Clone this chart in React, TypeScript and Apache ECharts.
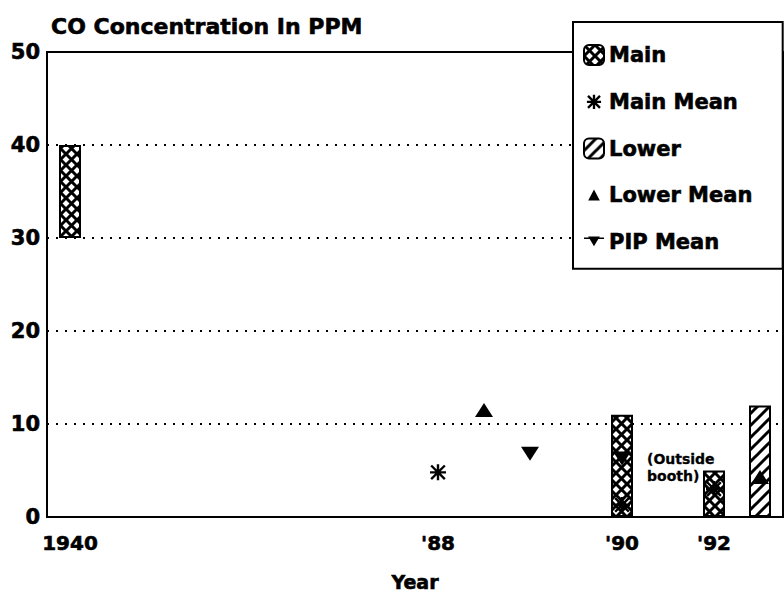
import React, { useEffect, useRef } from 'react';
import * as echarts from 'echarts';

const categories = ['1940', '', '', '', '', '', '', '', "'88", '', '', '', "'90", '', "'92", ''];
const yTicks = [0, 10, 20, 30, 40, 50];

// floating range bars: category index, low, high
const mainIdx = [0, 12, 14];
const mainLow = [30, 0, 0];
const mainHigh = [40, 11, 5];
const lowerIdx = [15];
const lowerLow = [0];
const lowerHigh = [12];

// means: [category index, value]
const mainMean = [[8, 4.8], [12, 1.3], [14, 3.0]];
const lowerMean = [[9, 11.5], [15, 4.3]];
const pipMean = [[10, 6.8], [12, 6.3]];
const pipNoteIdx = 12;
const pipNote = '(Outside\nbooth)';

const FONT = '"DejaVu Sans", sans-serif';
const HEAVY = { fontFamily: FONT, fontWeight: 'bold', color: '#000', textBorderColor: '#000', textBorderWidth: 0.6 };

const STAR = 'path://M8.5 0 H11.5 V20 H8.5 Z M0 8.5 H20 V11.5 H0 Z M0.4 2.5 L2.5 0.4 L19.6 17.5 L17.5 19.6 Z M17.5 0.4 L19.6 2.5 L2.5 19.6 L0.4 17.5 Z';
const STAR_ICON = 'path://M0 0 L0.01 0 L0 0.01 Z M24 24 L24.01 24 L24 24.01 Z M10.6 3.5 H13.4 V20.5 H10.6 Z M3.5 10.6 H20.5 V13.4 H3.5 Z M3.8 5.8 L5.8 3.8 L20.2 18.2 L18.2 20.2 Z M18.2 3.8 L20.2 5.8 L5.8 20.2 L3.8 18.2 Z';
const TRI_ICON = 'path://M0 0 L0.01 0 L0 0.01 Z M24 24 L24.01 24 L24 24.01 Z M12 5 L19 18 H5 Z';
const PIP_ICON = 'path://M0 0 L0.01 0 L0 0.01 Z M24 24 L24.01 24 L24 24.01 Z M0 6.5 H24 V8.5 H0 Z M5 5.5 H19 L12 17 Z';

function makeCross() {
  const s = 11;
  const c = document.createElement('canvas');
  c.width = s; c.height = s;
  const g = c.getContext('2d')!;
  g.fillStyle = '#fff'; g.fillRect(0, 0, s, s);
  g.strokeStyle = '#000'; g.lineWidth = 3;
  g.beginPath();
  g.moveTo(-1, -1); g.lineTo(s + 1, s + 1);
  g.moveTo(s + 1, -1); g.lineTo(-1, s + 1);
  g.stroke();
  return c;
}
function makeHatch() {
  const s = 12;
  const c = document.createElement('canvas');
  c.width = s; c.height = s;
  const g = c.getContext('2d')!;
  g.fillStyle = '#fff'; g.fillRect(0, 0, s, s);
  g.strokeStyle = '#000'; g.lineWidth = 3;
  g.beginPath();
  g.moveTo(-1, s + 1); g.lineTo(s + 1, -1);
  g.moveTo(-3, 3); g.lineTo(3, -3);
  g.moveTo(s - 3, s + 3); g.lineTo(s + 3, s - 3);
  g.stroke();
  return c;
}

export default function App() {
  const ref = useRef<HTMLDivElement>(null);
  useEffect(() => {
    if (!ref.current) return;
    const chart = echarts.init(ref.current, null, { renderer: 'svg' });
    const n = categories.length;
    const base: any[] = new Array(n).fill('-');
    const mainData: any[] = new Array(n).fill('-');
    const lowerData: any[] = new Array(n).fill('-');
    mainIdx.forEach((ci, k) => { base[ci] = mainLow[k]; mainData[ci] = mainHigh[k] - mainLow[k]; });
    lowerIdx.forEach((ci, k) => { base[ci] = lowerLow[k]; lowerData[ci] = lowerHigh[k] - lowerLow[k]; });

    const crossPat = { image: makeCross(), repeat: 'repeat', imageWidth: 11, imageHeight: 11 };
    const hatchPat = { image: makeHatch(), repeat: 'repeat', imageWidth: 12, imageHeight: 12 };

    const pipData = pipMean.map(([x, y]) => {
      if (x === pipNoteIdx) {
        return {
          value: [x, y],
          label: {
            show: true, position: 'right', distance: 16, offset: [0, 9],
            formatter: pipNote, ...HEAVY, textBorderWidth: 0.3, fontSize: 14,
            lineHeight: 17, align: 'left',
          },
        };
      }
      return { value: [x, y] };
    });

    chart.setOption({
      animation: false,
      backgroundColor: '#fff',
      title: {
        text: 'CO Concentration In PPM', left: 46, top: 10,
        textStyle: { ...HEAVY, fontSize: 22 },
      },
      grid: { left: 47, right: 1, top: 52, bottom: 83, show: true, borderColor: '#000', borderWidth: 2 },
      legend: {
        orient: 'vertical', left: 573, top: 22, selectedMode: false,
        backgroundColor: '#fff', borderColor: '#000', borderWidth: 2,
        padding: [22, 30, 16, 10], itemGap: 25, itemWidth: 20, itemHeight: 20,
        textStyle: { ...HEAVY, fontSize: 21, lineHeight: 20 },
        data: [
          { name: 'Main' },
          { name: 'Main Mean', icon: STAR_ICON },
          { name: 'Lower' },
          { name: 'Lower Mean', icon: TRI_ICON },
          { name: 'PIP Mean', icon: PIP_ICON },
        ],
      },
      xAxis: {
        type: 'category', data: categories, boundaryGap: true,
        name: 'Year', nameLocation: 'middle', nameGap: 55,
        nameTextStyle: { ...HEAVY, fontSize: 19 },
        axisLine: { lineStyle: { color: '#000', width: 2 } },
        axisTick: { show: false },
        axisLabel: { interval: 0, margin: 16, ...HEAVY, fontSize: 20 },
        splitLine: { show: false },
      },
      yAxis: {
        type: 'value', min: yTicks[0], max: yTicks[yTicks.length - 1], interval: 10,
        axisLine: { show: true, lineStyle: { color: '#000', width: 2 } },
        axisTick: { show: false },
        axisLabel: { margin: 7, ...HEAVY, fontSize: 21 },
        splitLine: { show: true, lineStyle: { color: '#000', width: 2, type: [2, 7] } },
      },
      series: [
        {
          name: 'base', type: 'bar', stack: 'r', barWidth: 22, data: base,
          itemStyle: { color: 'transparent' }, silent: true,
        },
        {
          name: 'Main', type: 'bar', stack: 'r', barWidth: 22, data: mainData,
          itemStyle: { color: crossPat, borderColor: '#000', borderWidth: 2 },
        },
        {
          name: 'Lower', type: 'bar', stack: 'r', barWidth: 22, data: lowerData,
          itemStyle: { color: hatchPat, borderColor: '#000', borderWidth: 2 },
        },
        {
          name: 'Main Mean', type: 'scatter', symbol: STAR, symbolSize: 16, data: mainMean,
          itemStyle: { color: '#000', opacity: 1 }, z: 5,
        },
        {
          name: 'Lower Mean', type: 'scatter', symbol: 'triangle', symbolSize: [18, 14], data: lowerMean,
          itemStyle: { color: '#000', opacity: 1 }, z: 5,
        },
        {
          name: 'PIP Mean', type: 'scatter', symbol: 'triangle', symbolRotate: 180, symbolSize: [18, 14],
          data: pipData, itemStyle: { color: '#000', opacity: 1 }, z: 5,
        },
      ],
    });
    return () => chart.dispose();
  }, []);
  return <div ref={ref} style={{ position: 'fixed', left: 0, top: 0, width: 784, height: 600 }} />;
}
